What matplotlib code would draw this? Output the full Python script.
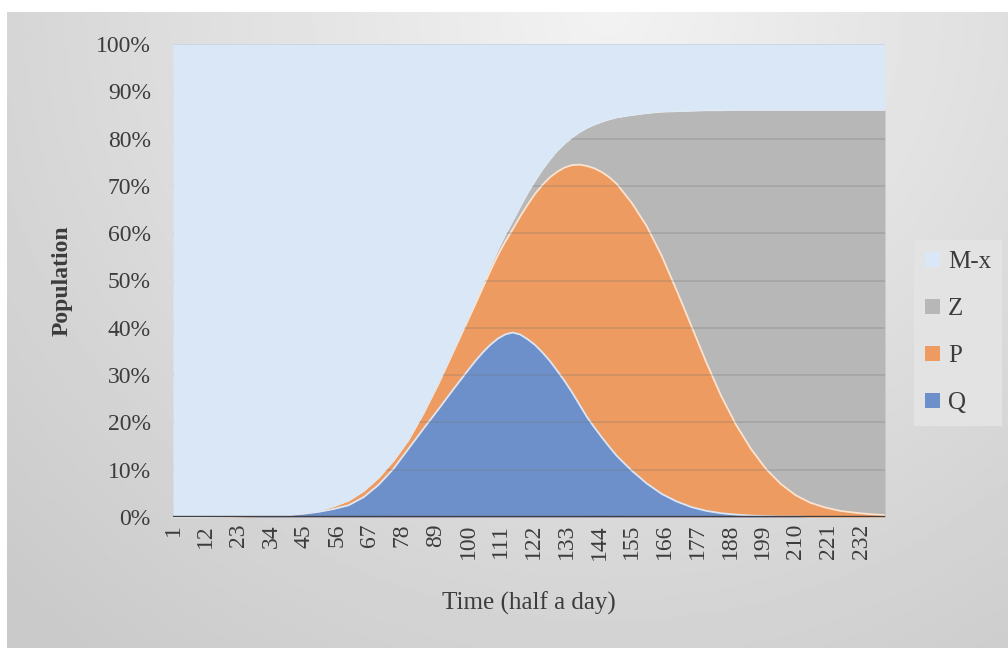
import numpy as np
import matplotlib
matplotlib.use('Agg')
import matplotlib.pyplot as plt
from matplotlib.patches import Patch

plt.rcParams['font.family'] = ['Liberation Serif', 'DejaVu Serif']

# =============================================================================
# Data (percent of population, top edge of each band)
# =============================================================================
t_steps = [1, 10, 20, 30, 35, 40, 45, 50, 55, 60, 65, 70, 75, 80, 85, 90, 95,
           100, 102.5, 105, 107.5, 110, 112.5, 115, 117.5, 120, 122.5, 125,
           127.5, 130, 132.5, 135, 137.5, 140, 142.5, 145, 147.5, 150,
           155, 160, 165, 170, 175, 180, 185, 190, 195, 200, 205, 210, 215,
           220, 225, 230, 235, 240]

q_top = [0, 0, 0, 0.1, 0.2, 0.4, 0.7, 1.1, 1.7, 2.5, 4.2, 6.8, 10.2, 14.4,
         18.6, 22.7, 26.9,
         31.0, 33.0, 34.8, 36.4, 37.7, 38.6, 39.0, 38.6, 37.6, 36.4, 34.8,
         33.0, 30.9, 28.7, 26.3, 23.7, 21.1, 18.9, 16.8, 14.8, 12.9,
         9.8, 7.1, 4.9, 3.3, 2.1, 1.3, 0.8, 0.5, 0.3, 0.2, 0.1, 0.1, 0,
         0, 0, 0, 0, 0]

p_top = [0, 0, 0.05, 0.15, 0.3, 0.5, 0.9, 1.4, 2.3, 3.5, 5.5, 8.3, 11.9, 16.2,
         21.8, 28.0, 34.8,
         41.6, 45.0, 48.5, 52.0, 55.3, 58.2, 60.8, 63.5, 66.0, 68.3, 70.2,
         71.8, 73.0, 73.9, 74.4, 74.5, 74.2, 73.7, 72.9, 71.8, 70.4,
         66.4, 61.5, 55.3, 48.0, 40.4, 32.7, 25.6, 19.5, 14.4, 10.2, 7.0,
         4.6, 3.0, 2.0, 1.3, 0.9, 0.6, 0.4]

z_top = [0, 0, 0.05, 0.15, 0.3, 0.5, 0.9, 1.4, 2.3, 3.5, 5.5, 8.3, 11.9, 16.3,
         21.9, 28.2, 35.1,
         42.0, 45.7, 49.3, 53.0, 56.5, 59.7, 62.6, 65.6, 68.5, 71.1, 73.5,
         75.6, 77.5, 79.0, 80.3, 81.4, 82.3, 83.0, 83.6, 84.1, 84.5,
         85.0, 85.4, 85.7, 85.8, 85.9, 86.0, 86.0, 86.1, 86.1, 86.1, 86.1,
         86.1, 86.1, 86.1, 86.1, 86.1, 86.1, 86.1]

x_ticks = list(range(1, 240, 11))
y_ticks = list(range(0, 101, 10))
series_names = ['M-x', 'Z', 'P', 'Q']

c_mx, c_z, c_p, c_q = '#d9e7f6', '#b7b7b7', '#ed9b60', '#6d90cb'
txt = '#3c3c3c'

# =============================================================================
fig = plt.figure(figsize=(10.08, 6.48), dpi=100)

# grey radial background panel
bg = fig.add_axes([7/1008, 0, 1 - 7/1008, 1 - 12/648], zorder=-10)
gx, gy = np.meshgrid(np.linspace(0, 1, 400), np.linspace(0, 1, 260))
d = np.sqrt(((gx - 0.6)/0.85)**2 + (gy/1.3)**2)
shade = 0.95 - 0.16*np.clip(d, 0, 1)
bg.imshow(shade, cmap='gray', vmin=0, vmax=1, aspect='auto',
          extent=(0, 1, 1, 0), interpolation='bilinear')
bg.axis('off')

ax = fig.add_axes([173/1008, 1 - 517/648, (885-173)/1008, (517-44)/648])
t = np.array(t_steps)
ax.fill_between(t, 0, z_top, color=c_z, lw=0, zorder=1)
ax.fill_between(t, 0, p_top, color=c_p, lw=0, zorder=2)
ax.fill_between(t, 0, q_top, color=c_q, lw=0, zorder=3)
ax.plot(t, z_top, color='#f2f2f2', lw=1.3, zorder=4)
ax.plot(t, p_top, color='#fbe3cf', lw=1.3, zorder=4)
ax.plot(t, q_top, color='#dbe6f6', lw=1.3, zorder=4)

for yv in y_ticks[1:-1]:
    ax.axhline(yv, color='#707070', alpha=0.22, lw=1.4, zorder=5)

ax.fill_between(t, z_top, 100, color=c_mx, lw=0, zorder=6)
ax.axhline(100, color='#c9d3de', lw=1.2, zorder=7)
ax.axhline(0, color='#3f3f3f', lw=2.4, zorder=8)

ax.set_xlim(1, 240)
ax.set_ylim(0, 100)
ax.set_xticks(x_ticks)
ax.set_xticklabels([str(v) for v in x_ticks], rotation=90)
ax.set_yticks(y_ticks)
ax.set_yticklabels([f'{v}%' for v in y_ticks])
ax.tick_params(axis='both', length=0, colors=txt, labelsize=17)
ax.tick_params(axis='y', pad=16)
ax.tick_params(axis='x', pad=5)
for s in ax.spines.values():
    s.set_visible(False)
ax.patch.set_visible(False)

fig.text(529/1008, 1 - 603/648, 'Time (half a day)', ha='center', va='center',
         fontsize=18, color=txt)
fig.text(62/1008, 1 - 281/648, 'Population', ha='center', va='center',
         rotation=90, fontsize=17, fontweight='bold', color=txt)

handles = [Patch(facecolor=c, edgecolor='none') for c in (c_mx, c_z, c_p, c_q)]
leg = fig.legend(handles, series_names, loc='upper left',
                 bbox_to_anchor=(914/1008, 1 - 240/648), borderaxespad=0,
                 fontsize=18, frameon=True, fancybox=False, framealpha=1,
                 facecolor='#e3e3e3', edgecolor='none', labelspacing=1.0,
                 handlelength=0.6, handleheight=0.6, handletextpad=0.3,
                 borderpad=0.45, labelcolor=txt)

fig.savefig('out.png', dpi=100)
